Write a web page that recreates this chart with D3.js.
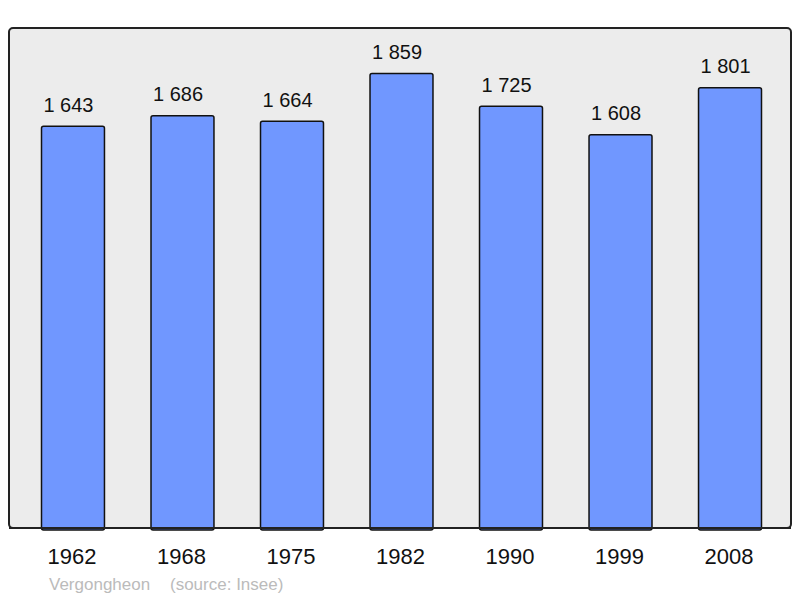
<!DOCTYPE html>
<html>
<head>
<meta charset="UTF-8">
<script src="https://cdnjs.cloudflare.com/ajax/libs/d3/7.9.0/d3.min.js"></script>
<style>
    body { margin: 0; background: #fff; }
    text { font-family: "Liberation Sans", Arial, sans-serif; }
</style>
</head>
<body>
<div id="chart"></div>
<script>
// data
const years = ["1962", "1968", "1975", "1982", "1990", "1999", "2008"];
const population = [1643, 1686, 1664, 1859, 1725, 1608, 1801];
const place = "Vergongheon";
const source = "(source: Insee)";

const W = 800, H = 598;
const panel = {x: 9, y: 28, w: 782, h: 500};

const svg = d3.select("#chart").append("svg")
    .attr("width", W)
    .attr("height", H);

// panel background
svg.append("rect")
    .attr("x", panel.x).attr("y", panel.y)
    .attr("width", panel.w).attr("height", panel.h)
    .attr("rx", 4)
    .attr("fill", "#ececec")
    .attr("stroke", "#222")
    .attr("stroke-width", 2);

const x = d3.scaleBand()
    .domain(years)
    .range([41.5, 761.5])
    .paddingInner(0.425)
    .paddingOuter(0);

const y = d3.scaleLinear()
    .domain([0, d3.max(population) * 1.1])
    .range([panel.y + panel.h, panel.y]);

const g = svg.append("g");

// bars
g.selectAll("rect.bar")
    .data(population)
    .enter().append("rect")
    .attr("class", "bar")
    .attr("x", (d, i) => x(years[i]))
    .attr("y", d => y(d))
    .attr("width", x.bandwidth())
    .attr("height", d => y(0) - y(d) + 2)
    .attr("rx", 2)
    .attr("fill", "#7097ff")
    .attr("stroke", "#111")
    .attr("stroke-width", 1.5);

// redraw bottom border over bar bottoms
svg.append("line")
    .attr("x1", panel.x).attr("x2", panel.x + panel.w)
    .attr("y1", panel.y + panel.h).attr("y2", panel.y + panel.h)
    .attr("stroke", "#222").attr("stroke-width", 2);

// value labels (sit a little left of bar centre, as in the original)
const fmt = d => d3.format(",")(d).replace(",", " ");
g.selectAll("text.val")
    .data(population)
    .enter().append("text")
    .attr("class", "val")
    .attr("x", (d, i) => x(years[i]) + x.bandwidth() / 2 - 4.5)
    .attr("y", d => y(d) - 14.5)
    .attr("text-anchor", "middle")
    .attr("font-size", 20)
    .attr("fill", "#111")
    .text(fmt);

// year labels
g.selectAll("text.year")
    .data(years)
    .enter().append("text")
    .attr("class", "year")
    .attr("x", d => x(d) + x.bandwidth() / 2 - 1)
    .attr("y", 564)
    .attr("text-anchor", "middle")
    .attr("font-size", 22)
    .attr("fill", "#111")
    .text(d => d);

// footer
svg.append("text")
    .attr("x", 49).attr("y", 590)
    .attr("font-size", 17)
    .attr("fill", "#bbb")
    .text(place);
svg.append("text")
    .attr("x", 170).attr("y", 590)
    .attr("font-size", 17)
    .attr("fill", "#bbb")
    .text(source);
</script>
</body>
</html>
